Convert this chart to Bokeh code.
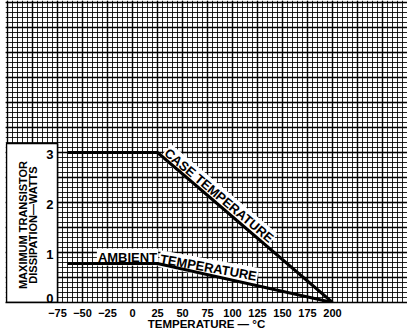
import numpy as np
from bokeh.plotting import figure
from bokeh.models import Range1d, FixedTicker, SingleIntervalTicker, Grid
from bokeh.core.properties import value
from bokeh.embed import file_html
from bokeh.resources import INLINE

# ---- data ----
temp = [-65, 25, 200]                 # deg C
case_watts = [3.0, 3.0, 0.0]          # case-temperature derating curve
ambient_watts = [0.78, 0.78, 0.0]     # ambient-temperature derating curve
x_ticks = [-75, -50, -25, 0, 25, 50, 75, 100, 125, 150, 175, 200]
y_ticks = [0, 1, 2, 3]
y_tick_labels = ["0", "1", "2", "3"]
y_title_lines = ["MAXIMUM TRANSISTOR", "DISSIPATION\u2014WATTS"]
x_title = "TEMPERATURE \u2014 \u00b0C"

FONT = value("Liberation Sans")

p = figure(width=407, height=335,
           x_range=Range1d(-127, 275), y_range=Range1d(0, 6.04),
           output_backend="svg", toolbar_location=None,
           y_axis_location=None,
           min_border_left=5, min_border_right=0,
           min_border_top=0, min_border_bottom=33)
p.outline_line_color = None
p.background_fill_color = "white"
p.border_fill_color = "white"

# graph-paper grid
p.xgrid.ticker = SingleIntervalTicker(interval=25, num_minor_ticks=5)
p.xgrid.grid_line_color = "black"
p.xgrid.grid_line_width = 1.4
p.xgrid.minor_grid_line_color = "black"
p.xgrid.minor_grid_line_width = 1
p.xgrid.minor_grid_line_alpha = 0.85
ygrid = Grid(dimension=1, ticker=SingleIntervalTicker(interval=0.5, num_minor_ticks=5),
             grid_line_color="black", grid_line_width=1.4,
             minor_grid_line_color="black", minor_grid_line_width=1,
             minor_grid_line_alpha=0.85)
p.add_layout(ygrid)

# x axis
ax = p.xaxis[0]
ax.ticker = FixedTicker(ticks=x_ticks)
ax.major_tick_out = 0
ax.major_tick_in = 0
ax.minor_tick_out = 0
ax.minor_tick_in = 0
ax.axis_line_color = "black"
ax.axis_line_width = 1.5
ax.major_label_text_font = "Liberation Sans"
ax.major_label_text_font_style = "bold"
ax.major_label_text_font_size = "11px"
ax.major_label_text_color = "black"
ax.major_label_standoff = 6
ax.axis_label = x_title
ax.axis_label_text_font = "Liberation Sans"
ax.axis_label_text_font_style = "bold"
ax.axis_label_text_font_size = "11.5px"
ax.axis_label_text_color = "black"
ax.axis_label_standoff = -2

# white label box at lower left
p.quad(left=[-126], right=[-75], bottom=[0], top=[3.18],
       fill_color="white", line_color="black", line_width=1.5)

# y tick labels inside the box
p.text(x=[-79] * len(y_ticks), y=y_ticks, text=y_tick_labels,
       y_offset=[-4, 2, 2, 2],
       text_align="right", text_baseline="middle",
       text_font=FONT, text_font_style="bold", text_font_size="13px",
       text_color="black")

# y title (two rotated lines)
p.text(x=[-110, -100], y=[1.55, 1.55], text=y_title_lines, angle=np.pi / 2,
       text_align="center", text_baseline="middle",
       text_font=FONT, text_font_style="bold", text_font_size="11px",
       text_color="black")

# curve labels (white knock-out behind letters)
p.text(x=[86.5], y=[2.14], text=["CASE TEMPERATURE"], angle=-0.70,
       text_align="center", text_baseline="middle",
       text_font=FONT, text_font_style="bold", text_font_size="13px",
       text_color="black", background_fill_color="white", padding=1)
p.text(x=[-5], y=[0.91], text=["AMBIENT"],
       text_align="center", text_baseline="middle",
       text_font=FONT, text_font_style="bold", text_font_size="13px",
       text_color="black", background_fill_color="white", padding=1)
p.text(x=[76], y=[0.70], text=["TEMPERATURE"], angle=-0.18,
       text_align="center", text_baseline="middle",
       text_font=FONT, text_font_style="bold", text_font_size="13px",
       text_color="black", background_fill_color="white", padding=1)

# curves
p.line(temp, case_watts, line_color="black", line_width=3)
p.line(temp, ambient_watts, line_color="black", line_width=3)

open("out.html", "w").write(file_html(p, INLINE))
